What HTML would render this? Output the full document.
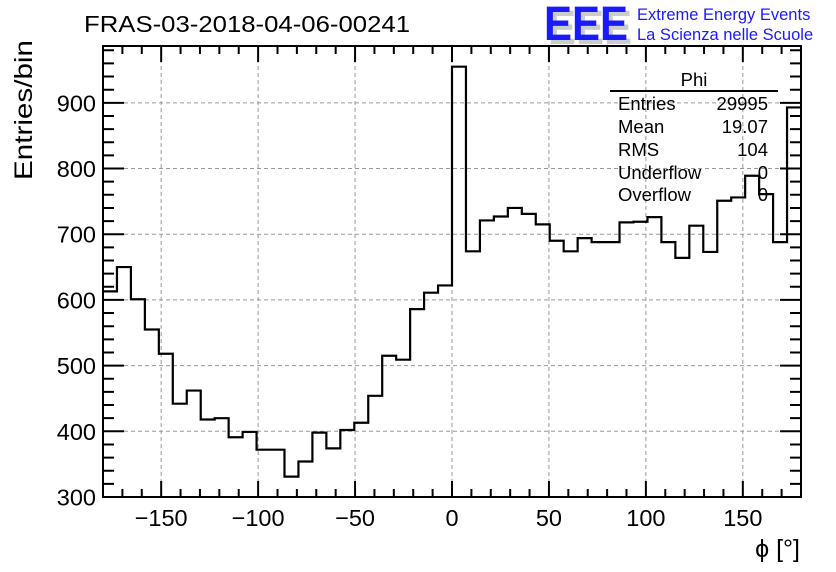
<!DOCTYPE html>
<html><head><meta charset="utf-8"><style>
html,body{margin:0;padding:0;background:#fff;}
svg{display:block;font-family:"Liberation Sans",sans-serif;}
</style></head><body>
<svg id="chart" width="836" height="572" viewBox="0 0 836 572">
<g id="grid"></g>
<g id="ticks"></g>
<path id="hist" fill="none" stroke="#000" stroke-width="2.2"></path>
<rect x="103" y="46" width="698" height="451" fill="none" stroke="#000" stroke-width="2"/>
<g id="labels" font-size="23.5"></g>
<text x="84" y="32" font-size="23" textLength="326" lengthAdjust="spacingAndGlyphs">FRAS-03-2018-04-06-00241</text>
<g>
<text x="548" y="44" font-size="48" font-weight="bold" fill="#ccc" textLength="84" lengthAdjust="spacingAndGlyphs">EEE</text>
<text x="544" y="40" font-size="48" font-weight="bold" fill="#1a1aff" textLength="84" lengthAdjust="spacingAndGlyphs">EEE</text>
<text x="637" y="20" font-size="16.5" fill="#1a1aff">Extreme Energy Events</text>
<text x="637" y="40" font-size="16.5" fill="#1a1aff">La Scienza nelle Scuole</text>
</g>
<text transform="translate(32,180) rotate(-90)" font-size="25" textLength="140" lengthAdjust="spacingAndGlyphs">Entries/bin</text>
<text x="800" y="557" font-size="25" text-anchor="end">ϕ [°]</text>
<g font-size="18.5">
<text x="694" y="86" text-anchor="middle">Phi</text>
<line x1="610" y1="91" x2="778" y2="91" stroke="#000" stroke-width="2"/>
<text x="618" y="110">Entries</text><text x="768" y="110" text-anchor="end">29995</text>
<text x="618" y="133">Mean</text><text x="768" y="133" text-anchor="end">19.07</text>
<text x="618" y="156">RMS</text><text x="768" y="156" text-anchor="end">104</text>
<text x="618" y="179">Underflow</text><text x="768" y="179" text-anchor="end">0</text>
<text x="618" y="201">Overflow</text><text x="768" y="201" text-anchor="end">0</text>
</g>
</svg>
<script>
const binEdgesStart = -180;
const binWidth = 7.2;
const counts = [613,650,601,555,518,442,462,418,420,391,399,372,372,331,354,398,374,402,413,454,515,509,586,611,622,955,674,721,727,740,731,715,690,674,694,688,688,718,719,726,688,664,713,673,751,756,789,761,688,893];
const xTicks = [-150,-100,-50,0,50,100,150];
const yTicks = [300,400,500,600,700,800,900];
const X0=103,X1=801,Y0=497,Y1=46;
const xMin=-180,xMax=180,yMin=300,yMax=986.5;
const sx=v=>X0+(v-xMin)/(xMax-xMin)*(X1-X0);
const sy=v=>Y0-(v-yMin)/(yMax-yMin)*(Y0-Y1);
const NS="http://www.w3.org/2000/svg";
function mk(tag,attrs,parent){const e=document.createElementNS(NS,tag);for(const k in attrs)e.setAttribute(k,attrs[k]);parent.appendChild(e);return e;}
const grid=document.getElementById('grid'),ticks=document.getElementById('ticks'),labels=document.getElementById('labels');
xTicks.forEach(t=>{
  const l=mk('line',{x1:sx(t),x2:sx(t),y1:Y0,y2:Y1,stroke:'#999','stroke-dasharray':'4,3','stroke-width':1},grid);
  
  
  const tx=mk('text',{x:sx(t),y:526,'text-anchor':'middle'},labels);
  
  
  tx.textContent=t<0?'\u2212'+(-t):String(t);
});
yTicks.forEach(t=>{
  if(t>yMin){const l=mk('line',{x1:X0,x2:X1,y1:sy(t),y2:sy(t),stroke:'#999','stroke-dasharray':'4,3','stroke-width':1},grid);
  
  }
  const tx=mk('text',{x:96,y:sy(t)+8.5,'text-anchor':'end'},labels);
  
  
  tx.textContent=String(t);
});
let d='';
for(let v=-180;v<=180;v+=10){const major=v%50===0;const L=major?16:8;
  d+=`M${sx(v)},${Y0}v${-L}M${sx(v)},${Y1}v${L}`;}
for(let v=300;v<=980;v+=20){const major=v%100===0;const L=major?21:11;
  d+=`M${X0},${sy(v)}h${L}M${X1},${sy(v)}h${-L}`;}
const tp=mk('path',{d:d,stroke:'#000','stroke-width':2,fill:'none'},ticks);


let hp='';
counts.forEach((c,i)=>{const a=sx(binEdgesStart+i*binWidth),b=sx(binEdgesStart+(i+1)*binWidth),y=sy(c);
  hp+=(i===0?`M${a},${y}`:`L${a},${y}`)+`L${b},${y}`;});
document.getElementById('hist').setAttribute('d',hp);
</script>
</body></html>
